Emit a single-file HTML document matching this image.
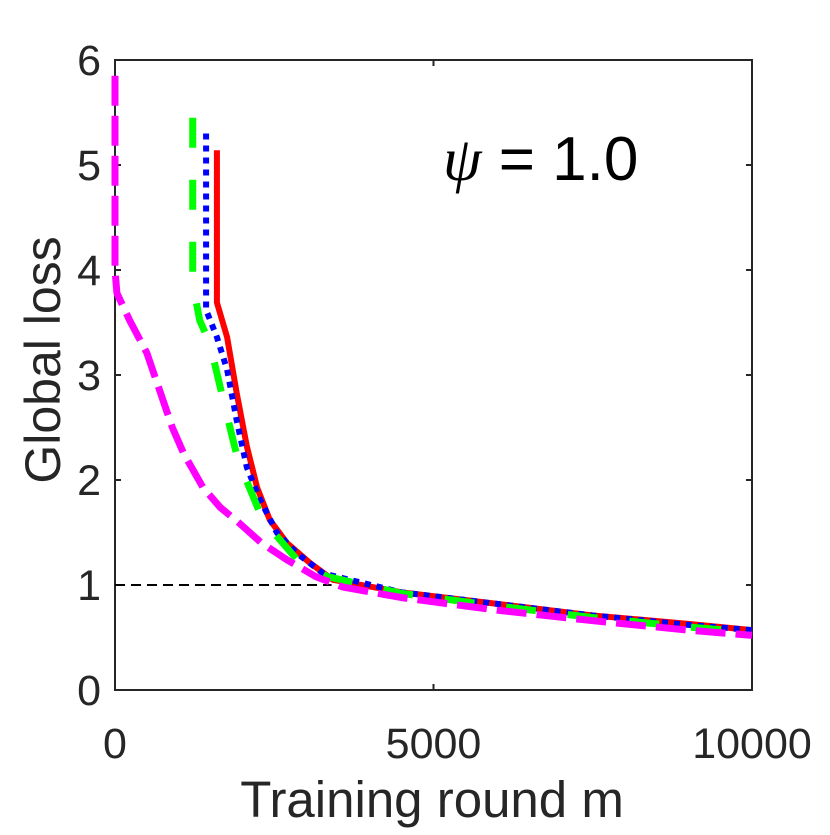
<!DOCTYPE html>
<html><head><meta charset="utf-8"><style>
body{margin:0;background:#fff}
svg text{font-family:"Liberation Sans",sans-serif;fill:#262626}
</style></head><body>
<svg id="chart" width="830" height="830" viewBox="0 0 830 830" xmlns="http://www.w3.org/2000/svg">
<rect x="115" y="60" width="637" height="630" fill="#fff" stroke="#262626" stroke-width="2"/>
<g id="ticks"></g>
<g id="series"></g>
<text x="443" y="180" font-size="62" style="fill:#000"><tspan font-style="italic" font-family="Liberation Serif">ψ</tspan> = 1.0</text>
<text x="432" y="817" font-size="51" text-anchor="middle">Training round m</text>
<text transform="translate(60,360) rotate(-90)" font-size="50" text-anchor="middle">Global loss</text>
</svg>
<script>
const xTicks=[0,5000,10000];
const yTicks=[0,1,2,3,4,5,6];
const magentaX=[0,0,30,230,500,680,900,1080,1380,1650,1950,2300,2700,3150,3580,4500,6000,7500,9000,10000];
const magentaY=[5.85,4.0,3.78,3.52,3.21,2.89,2.5,2.25,1.93,1.74,1.59,1.4,1.24,1.08,0.98,0.88,0.76,0.66,0.57,0.52];
const redX=[1600,1600,1760,1910,2070,2230,2430,2700,3060,3420,4500,6000,7500,9000,10000];
const redY=[5.14,3.69,3.36,2.83,2.32,1.93,1.62,1.4,1.21,1.05,0.93,0.82,0.71,0.63,0.57];
const blueX=[1430,1430,1600,1760,1910,2070,2280,2540,2860,3270,4500,6000,7500,9000,10000];
const blueY=[5.3,3.62,3.36,3.05,2.57,2.12,1.81,1.5,1.3,1.11,0.93,0.82,0.71,0.62,0.57];
const greenX=[1220,1220,1330,1490,1700,1930,2320,2860,3330,4500,6000,7500,9000,10000];
const greenY=[5.45,3.87,3.52,3.3,2.76,2.19,1.62,1.24,1.08,0.92,0.8,0.69,0.6,0.55];
const refX=[0,3400];
const refY=[1,1];
const X=v=>115+v/10000*637;
const Y=v=>690-v*105;
const NS="http://www.w3.org/2000/svg";
const tg=document.getElementById('ticks');
xTicks.forEach(t=>{
  const l=document.createElementNS(NS,'line');
  
  
  l.setAttribute('x1',X(t));l.setAttribute('x2',X(t));l.setAttribute('y1',690);l.setAttribute('y2',684);l.setAttribute('stroke','#262626');l.setAttribute('stroke-width',2);
  tg.appendChild(l);
  const l2=l.cloneNode();l2.setAttribute('y1',60);l2.setAttribute('y2',66);tg.appendChild(l2);
  const tx=document.createElementNS(NS,'text');
  
  
  tx.setAttribute('x',X(t));tx.setAttribute('y',758);tx.setAttribute('font-size',43);tx.setAttribute('text-anchor','middle');
  tx.textContent=t;tg.appendChild(tx);
});
yTicks.forEach(t=>{
  const l=document.createElementNS(NS,'line');
  
  
  l.setAttribute('x1',115);l.setAttribute('x2',121);l.setAttribute('y1',Y(t));l.setAttribute('y2',Y(t));l.setAttribute('stroke','#262626');l.setAttribute('stroke-width',2);
  tg.appendChild(l);
  const l2=l.cloneNode();l2.setAttribute('x1',752);l2.setAttribute('x2',746);tg.appendChild(l2);
  const tx=document.createElementNS(NS,'text');
  
  
  tx.setAttribute('x',101);tx.setAttribute('y',Y(t)+15);tx.setAttribute('font-size',43);tx.setAttribute('text-anchor','end');
  tx.textContent=t;tg.appendChild(tx);
});
const sg=document.getElementById('series');
function draw(xs,ys,color,w,dash,name){
  const p=document.createElementNS(NS,'polyline');
  
  
  p.setAttribute('points',xs.map((x,i)=>X(x)+','+Y(ys[i])).join(' '));
  p.setAttribute('fill','none');p.setAttribute('stroke',color);p.setAttribute('stroke-width',w);
  p.setAttribute('stroke-linejoin','round');
  if(dash)p.setAttribute('stroke-dasharray',dash);
  sg.appendChild(p);
}
draw(refX,refY,'#000',2,'10,6','reference-line');
draw(redX,redY,'#ff0000',6,null,'red-series');
draw(blueX,blueY,'#0000ff',6,'6,6','blue-series');
draw(greenX,greenY,'#00ff00',7,'30,32','green-series');
draw(magentaX,magentaY,'#ff00ff',7,'30,10','magenta-series');
</script>
</body></html>
